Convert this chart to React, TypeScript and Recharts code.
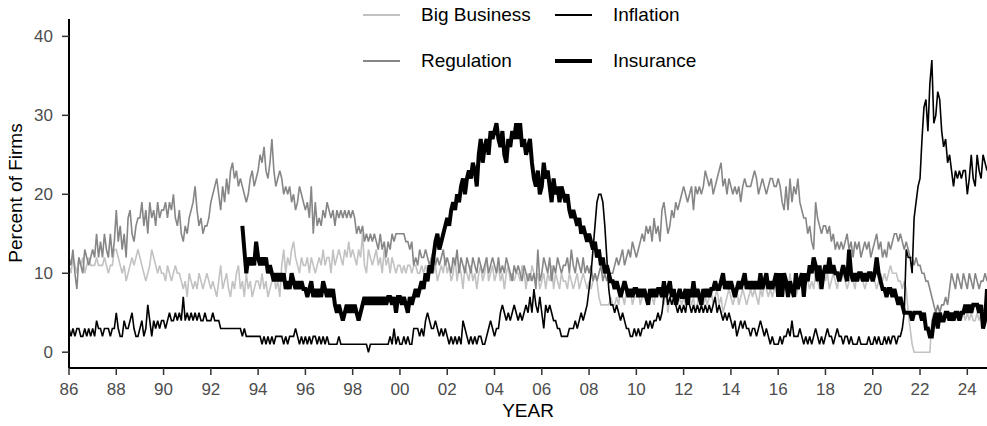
import React from 'react';
import { LineChart, Line, XAxis, YAxis, Legend } from 'recharts';

const FONT = '"Liberation Sans", Arial, Helvetica, sans-serif';

// monthly readings, one row per year, Jan..Dec (2024 ends in Nov)
const firstYear = 1986;
const insuranceFirstYear = 1993;

const regulation: number[][] = [
  [12, 11, 13, 10, 8, 12, 11, 10, 13, 12, 11, 12], // 1986
  [13, 12, 15, 12, 14, 12, 15, 13, 12, 15, 12, 14],
  [18, 14, 16, 13, 15, 12, 17, 18, 15, 14, 16, 17],
  [17, 19, 16, 18, 15, 19, 17, 18, 16, 19, 17, 18],
  [18, 19, 17, 19, 18, 20, 17, 16, 18, 15, 14, 16], // 1990
  [15, 17, 18, 19, 21, 18, 16, 17, 15, 16, 16, 17],
  [19, 20, 21, 22, 20, 18, 21, 19, 22, 20, 23, 24],
  [22, 23, 21, 22, 21, 20, 19, 20, 22, 23, 21, 22],
  [23, 25, 24, 26, 23, 22, 24, 27, 23, 21, 22, 23],
  [22, 20, 21, 20, 21, 19, 20, 18, 19, 21, 20, 19], // 1995
  [18, 19, 17, 21, 15, 19, 16, 17, 16, 18, 17, 19],
  [18, 17, 18, 16, 18, 17, 18, 17, 18, 17, 18, 17],
  [18, 17, 15, 16, 15, 16, 14, 15, 14, 15, 14, 15],
  [14, 13, 15, 13, 14, 12, 14, 13, 15, 14, 15, 15],
  [15, 15, 15, 14, 14, 13, 14, 11, 12, 11, 13, 12], // 2000
  [12, 13, 12, 11, 12, 13, 11, 12, 11, 12, 13, 11],
  [12, 11, 10, 12, 11, 13, 10, 12, 11, 10, 12, 11],
  [10, 12, 11, 10, 12, 11, 10, 11, 12, 10, 11, 12],
  [11, 10, 12, 10, 11, 10, 12, 11, 10, 9, 11, 10],
  [11, 10, 9, 11, 10, 9, 10, 9, 10, 8, 13, 9], // 2005
  [10, 12, 11, 10, 12, 9, 11, 10, 12, 11, 10, 11],
  [11, 12, 10, 13, 11, 10, 12, 11, 10, 12, 10, 11],
  [10, 11, 9, 10, 9, 10, 11, 9, 10, 9, 10, 10],
  [10, 11, 12, 11, 12, 13, 11, 12, 13, 12, 14, 13],
  [12, 13, 14, 15, 14, 16, 15, 16, 14, 17, 15, 16], // 2010
  [14, 18, 19, 17, 15, 16, 18, 17, 19, 18, 19, 20],
  [21, 20, 19, 20, 21, 18, 21, 20, 21, 20, 21, 23],
  [22, 21, 22, 20, 21, 22, 23, 24, 21, 22, 20, 22],
  [21, 20, 21, 20, 21, 19, 21, 22, 21, 21, 21, 22],
  [23, 22, 20, 21, 22, 21, 20, 21, 22, 22, 21, 21], // 2015
  [22, 21, 19, 18, 21, 18, 22, 19, 21, 20, 22, 19],
  [18, 17, 17, 15, 16, 14, 13, 19, 17, 16, 15, 16],
  [16, 15, 16, 14, 15, 13, 14, 13, 14, 13, 14, 15],
  [13, 14, 12, 14, 13, 14, 12, 13, 14, 13, 14, 12],
  [13, 14, 15, 13, 14, 12, 13, 12, 14, 13, 14, 15], // 2020
  [15, 14, 15, 14, 13, 14, 13, 12, 12, 11, 12, 11],
  [11, 10, 10, 9, 9, 8, 7, 6, 5, 6, 5, 6],
  [6, 7, 6, 8, 10, 9, 8, 10, 9, 8, 10, 9],
  [8, 10, 9, 8, 10, 9, 8, 9, 9, 10, 9], // 2024
];

const bigBusiness: number[][] = [
  [11, 10, 12, 11, 10, 12, 11, 12, 10, 11, 12, 11], // 1986
  [11, 11, 12, 11, 11, 11, 12, 11, 10, 11, 11, 13],
  [13, 12, 11, 10, 11, 9, 10, 11, 12, 11, 12, 13],
  [12, 11, 10, 9, 10, 11, 13, 12, 11, 10, 11, 10],
  [10, 9, 11, 10, 9, 10, 11, 10, 10, 9, 8, 9], // 1990
  [7, 10, 9, 8, 9, 8, 10, 9, 8, 9, 10, 9],
  [8, 9, 8, 7, 9, 11, 8, 9, 10, 8, 7, 9],
  [8, 10, 11, 8, 9, 7, 10, 8, 9, 7, 8, 9],
  [9, 8, 10, 8, 9, 7, 8, 9, 10, 8, 9, 7],
  [11, 13, 10, 12, 11, 13, 14, 12, 11, 10, 12, 11], // 1995
  [11, 12, 10, 12, 11, 10, 11, 12, 11, 13, 11, 12],
  [12, 10, 13, 11, 12, 13, 12, 11, 13, 12, 14, 12],
  [13, 12, 11, 13, 12, 15, 11, 10, 13, 12, 11, 12],
  [13, 11, 12, 10, 13, 11, 12, 10, 12, 11, 10, 11],
  [11, 10, 11, 10, 11, 11, 10, 11, 11, 10, 10, 11], // 2000
  [10, 11, 10, 11, 12, 10, 11, 9, 10, 11, 10, 12],
  [10, 11, 9, 10, 12, 9, 11, 10, 8, 11, 10, 9],
  [11, 9, 10, 8, 10, 11, 9, 10, 12, 9, 10, 11],
  [9, 10, 11, 9, 10, 8, 10, 11, 9, 10, 9, 10],
  [10, 9, 11, 10, 8, 10, 9, 11, 10, 9, 10, 8], // 2005
  [9, 10, 8, 10, 9, 11, 8, 10, 9, 8, 10, 9],
  [9, 8, 10, 9, 8, 9, 10, 8, 9, 10, 9, 8],
  [9, 8, 9, 10, 9, 7, 6, 6, 6, 6, 6, 7],
  [6, 6, 7, 6, 8, 7, 6, 8, 7, 8, 6, 7],
  [7, 8, 6, 7, 8, 7, 6, 8, 7, 6, 8, 7], // 2010
  [8, 7, 6, 8, 5, 7, 6, 8, 7, 6, 7, 6],
  [7, 6, 8, 7, 6, 7, 5, 6, 8, 7, 6, 7],
  [6, 7, 8, 6, 7, 8, 6, 7, 5, 6, 7, 8],
  [7, 6, 7, 8, 6, 7, 8, 7, 6, 7, 8, 7],
  [8, 7, 6, 8, 7, 9, 8, 7, 8, 7, 8, 9], // 2015
  [8, 9, 7, 8, 9, 8, 10, 8, 9, 7, 8, 9],
  [9, 8, 10, 9, 8, 9, 8, 10, 9, 8, 9, 10],
  [9, 10, 8, 9, 10, 9, 8, 10, 9, 10, 9, 8],
  [9, 10, 9, 8, 10, 9, 10, 9, 8, 9, 10, 9],
  [10, 9, 8, 9, 10, 9, 10, 9, 10, 11, 10, 10], // 2020
  [10, 9, 9, 8, 9, 8, 5, 3, 1, 0, 0, 0],
  [0, 0, 0, 0, 0, 0, 4, 5, 4, 5, 4, 5],
  [4, 5, 4, 5, 4, 4, 5, 4, 5, 4, 5, 4],
  [5, 4, 5, 4, 4, 5, 4, 5, 4, 5, 5], // 2024
];

const inflation: number[][] = [
  [3, 2, 3, 2, 3, 3, 2, 2, 3, 2, 3, 2], // 1986
  [3, 2, 4, 3, 3, 2, 3, 3, 3, 2, 3, 3],
  [5, 3, 2, 2, 4, 3, 3, 4, 5, 3, 2, 2],
  [3, 4, 2, 3, 6, 4, 2, 4, 3, 4, 3, 4],
  [4, 3, 4, 5, 4, 4, 5, 4, 5, 4, 7, 4], // 1990
  [5, 4, 5, 4, 5, 4, 5, 4, 4, 5, 4, 4],
  [4, 5, 4, 4, 4, 3, 3, 3, 3, 3, 3, 3],
  [3, 3, 3, 3, 2, 3, 2, 2, 2, 2, 2, 2],
  [2, 2, 1, 2, 1, 2, 1, 2, 1, 2, 2, 2],
  [2, 1, 2, 1, 2, 2, 2, 3, 2, 1, 2, 1], // 1995
  [2, 1, 2, 1, 2, 2, 1, 2, 1, 2, 1, 2],
  [1, 1, 1, 1, 1, 2, 1, 1, 1, 1, 1, 1],
  [1, 1, 1, 1, 1, 1, 1, 1, 0, 1, 1, 1],
  [1, 1, 1, 1, 1, 1, 1, 2, 1, 3, 1, 2],
  [1, 1, 2, 1, 2, 1, 1, 3, 3, 3, 2, 3], // 2000
  [2, 4, 5, 4, 3, 3, 4, 3, 2, 3, 2, 3],
  [2, 1, 2, 1, 2, 1, 2, 1, 4, 3, 2, 1],
  [2, 1, 2, 1, 2, 2, 1, 1, 2, 3, 4, 3],
  [2, 3, 3, 5, 6, 5, 4, 5, 4, 5, 6, 5],
  [4, 5, 4, 5, 6, 5, 7, 5, 8, 6, 5, 7], // 2005
  [5, 3, 6, 5, 6, 5, 4, 4, 3, 3, 2, 2],
  [2, 2, 3, 3, 3, 4, 3, 4, 5, 4, 5, 6],
  [8, 10, 13, 16, 19, 20, 20, 19, 16, 12, 8, 6],
  [6, 5, 6, 5, 4, 5, 4, 3, 3, 2, 2, 3],
  [2, 3, 2, 3, 3, 4, 3, 4, 3, 4, 4, 5], // 2010
  [4, 5, 7, 8, 6, 7, 6, 7, 6, 5, 6, 5],
  [6, 5, 7, 6, 5, 6, 5, 6, 5, 6, 5, 6],
  [5, 6, 5, 6, 7, 5, 6, 5, 4, 5, 4, 5],
  [4, 3, 4, 2, 3, 4, 3, 4, 3, 3, 2, 3],
  [3, 2, 3, 4, 3, 2, 3, 2, 1, 2, 1, 1], // 2015
  [1, 2, 1, 2, 2, 3, 2, 4, 2, 2, 2, 3],
  [2, 1, 2, 1, 2, 1, 2, 3, 2, 1, 2, 1],
  [2, 3, 2, 2, 1, 2, 3, 2, 2, 1, 2, 2],
  [1, 2, 1, 1, 1, 2, 1, 1, 1, 1, 2, 1],
  [1, 2, 1, 2, 1, 1, 2, 1, 2, 1, 2, 2], // 2020
  [1, 2, 2, 3, 5, 13, 12, 12, 10, 17, 19, 21],
  [22, 27, 31, 32, 28, 34, 37, 29, 30, 33, 32, 28],
  [26, 27, 24, 25, 23, 21, 23, 22, 23, 22, 23, 23],
  [20, 22, 25, 22, 21, 25, 23, 22, 25, 24, 23], // 2024
];

const insurance: (number | null)[][] = [
  [null, null, null, null, 16, 13, 10, 12, 11, 12, 11, 14], // 1993
  [12, 11, 12, 11, 12, 10, 11, 10, 9, 10, 9, 10],
  [9, 10, 8, 9, 8, 10, 9, 8, 9, 8, 9, 8], // 1995
  [8, 7, 8, 9, 7, 8, 7, 8, 7, 9, 8, 7],
  [8, 7, 8, 6, 5, 6, 5, 4, 5, 6, 5, 6],
  [5, 6, 5, 4, 5, 6, 7, 6, 7, 6, 7, 6],
  [7, 6, 7, 6, 7, 6, 7, 7, 6, 7, 5, 7],
  [7, 6, 7, 6, 5, 7, 6, 7, 8, 7, 8, 9], // 2000
  [8, 10, 9, 11, 10, 12, 14, 15, 13, 14, 15, 16],
  [17, 16, 18, 19, 18, 20, 19, 21, 22, 20, 22, 23],
  [22, 24, 23, 21, 25, 27, 24, 26, 27, 25, 28, 27],
  [28, 29, 27, 26, 28, 25, 24, 27, 26, 28, 27, 29],
  [27, 29, 26, 27, 25, 26, 27, 24, 22, 21, 23, 20], // 2005
  [21, 24, 22, 23, 21, 19, 22, 20, 21, 19, 21, 20],
  [19, 20, 18, 17, 18, 17, 16, 17, 15, 16, 15, 14],
  [15, 14, 13, 14, 12, 13, 11, 12, 10, 11, 10, 9],
  [9, 8, 9, 8, 7, 8, 9, 8, 7, 8, 7, 8],
  [8, 7, 8, 7, 8, 7, 6, 8, 7, 8, 7, 8], // 2010
  [8, 7, 9, 7, 8, 9, 7, 8, 6, 7, 8, 7],
  [7, 8, 6, 8, 7, 9, 7, 8, 7, 6, 8, 7],
  [8, 7, 8, 8, 9, 8, 8, 9, 10, 8, 9, 8],
  [9, 8, 7, 8, 9, 8, 9, 10, 8, 9, 8, 9],
  [8, 9, 8, 10, 8, 9, 10, 8, 9, 8, 9, 10], // 2015
  [7, 10, 7, 10, 9, 7, 9, 8, 7, 10, 8, 9],
  [10, 7, 10, 9, 11, 10, 12, 11, 9, 11, 8, 10],
  [11, 10, 12, 10, 11, 10, 10, 9, 10, 11, 10, 9],
  [13, 10, 9, 10, 9, 10, 10, 9, 10, 9, 10, 10],
  [9, 10, 12, 10, 9, 8, 8, 7, 8, 8, 7, 8], // 2020
  [7, 6, 7, 6, 5, 5, 5, 5, 4, 5, 5, 5],
  [5, 4, 5, 3, 3, 2, 2, 4, 5, 3, 5, 4],
  [4, 5, 5, 4, 5, 4, 5, 5, 4, 5, 5, 6],
  [5, 6, 5, 6, 6, 6, 5, 6, 3, 4, 8], // 2024
];

const yearTicks = [1986, 1988, 1990, 1992, 1994, 1996, 1998, 2000, 2002, 2004, 2006, 2008, 2010, 2012, 2014, 2016, 2018, 2020, 2022, 2024];
const percentTicks = [0, 10, 20, 30, 40];

const regFlat = regulation.flat();
const bigFlat = bigBusiness.flat();
const infFlat = inflation.flat();
const insFlat = insurance.flat();
const insOffset = (insuranceFirstYear - firstYear) * 12;

const data = regFlat.map((reg, i) => ({
  t: firstYear + i / 12,
  bigBusiness: bigFlat[i],
  regulation: reg,
  inflation: infFlat[i],
  insurance: i >= insOffset ? insFlat[i - insOffset] : null,
}));

const lastT = data[data.length - 1].t;

const legendItems = [
  { label: 'Big Business', color: '#c2c2c2', size: 1.6, left: 363, top: 15 },
  { label: 'Inflation', color: '#000000', size: 1.6, left: 555, top: 15 },
  { label: 'Regulation', color: '#868686', size: 1.6, left: 363, top: 61 },
  { label: 'Insurance', color: '#000000', size: 4, left: 555, top: 61 },
];

const renderLegend = () => (
  <div style={{ position: 'relative', width: 987, height: 80, fontFamily: FONT, fontSize: 19, color: '#000' }}>
    {legendItems.map((it) => (
      <React.Fragment key={it.label}>
        <div
          style={{
            position: 'absolute',
            left: it.left,
            top: it.top - it.size / 2,
            width: 37,
            height: it.size,
            background: it.color,
          }}
        />
        <div style={{ position: 'absolute', left: it.left + 58, top: it.top - 11, lineHeight: '22px', whiteSpace: 'nowrap' }}>
          {it.label}
        </div>
      </React.Fragment>
    ))}
  </div>
);

const yearLabel = (v: number) => String(Math.round(v) % 100).padStart(2, '0');

export default function App() {
  return (
    <div style={{ position: 'absolute', left: 0, top: 0, width: 987, height: 426, background: '#fff' }}>
      <LineChart width={987} height={426} data={data} margin={{ top: 19, right: 0, bottom: 0, left: 0 }}>
        <XAxis
          dataKey="t"
          type="number"
          domain={[firstYear, lastT]}
          ticks={yearTicks}
          tickFormatter={yearLabel}
          height={58}
          axisLine={{ stroke: '#000', strokeWidth: 2 }}
          tickLine={{ stroke: '#333', strokeWidth: 1.5 }}
          tickSize={7}
          tickMargin={8}
          tick={{ fill: '#4d4d4d', fontSize: 17, fontFamily: FONT }}
          label={() => (
            <text x={528} y={417} textAnchor="middle" fontSize={19} fontFamily={FONT} fill="#000">
              YEAR
            </text>
          )}
        />
        <YAxis
          type="number"
          domain={[-2, 42.2]}
          ticks={percentTicks}
          width={69}
          axisLine={{ stroke: '#000', strokeWidth: 2 }}
          tickLine={{ stroke: '#333', strokeWidth: 1.5 }}
          tickSize={7}
          tickMargin={9}
          tick={{ fill: '#4d4d4d', fontSize: 17, fontFamily: FONT }}
          label={() => (
            <text
              transform="translate(22,193) rotate(-90)"
              textAnchor="middle"
              fontSize={19}
              fontFamily={FONT}
              fill="#000"
            >
              Percent of Firms
            </text>
          )}
        />
        <Legend
          layout="horizontal"
          verticalAlign="middle"
          align="center"
          content={renderLegend}
          wrapperStyle={{ position: 'absolute', left: 0, top: 0, width: 987, height: 80 }}
        />
        <Line dataKey="bigBusiness" name="Big Business" stroke="#c2c2c2" strokeWidth={1.6} dot={false} isAnimationActive={false} />
        <Line dataKey="regulation" name="Regulation" stroke="#868686" strokeWidth={1.6} dot={false} isAnimationActive={false} />
        <Line dataKey="inflation" name="Inflation" stroke="#000" strokeWidth={1.6} dot={false} isAnimationActive={false} />
        <Line dataKey="insurance" name="Insurance" stroke="#000" strokeWidth={4} dot={false} isAnimationActive={false} />
      </LineChart>
    </div>
  );
}
